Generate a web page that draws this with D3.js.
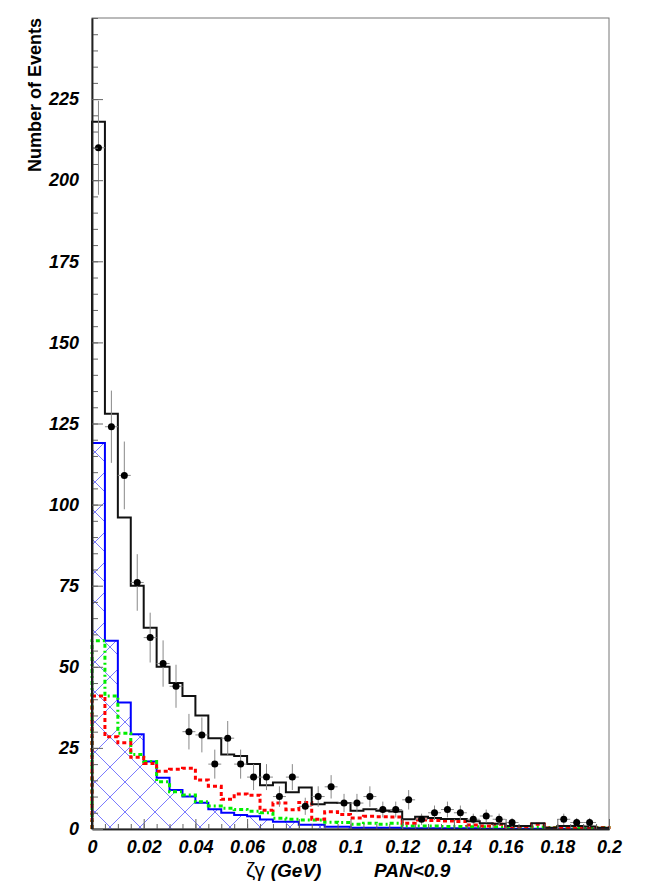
<!DOCTYPE html>
<html>
<head>
<meta charset="utf-8">
<script src="https://cdn.jsdelivr.net/npm/d3@7"></script>
<style>
  html, body { margin: 0; padding: 0; background: #fff; }
  svg { display: block; }
  text { font-family: "Liberation Sans", Arial, Helvetica, sans-serif; }
</style>
</head>
<body>
<svg id="chart" width="664" height="886"></svg>
<script>
// ---- Data ----
const binLow = [0,0.005,0.01,0.015,0.02,0.025,0.03,0.035,0.04,0.045,
                0.05,0.055,0.06,0.065,0.07,0.075,0.08,0.085,0.09,0.095,
                0.1,0.105,0.11,0.115,0.12,0.125,0.13,0.135,0.14,0.145,
                0.15,0.155,0.16,0.165,0.17,0.175,0.18,0.185,0.19,0.195];
const binWidth = 0.005;

const dataCounts = [210,124,109,76,59,51,44,30,29,20,28,20,16,16,10,16,7,10,13,8,
                    8,10,6,6,9,3,5,6,5,3,4,3,2,0,0,0,3,2,2,0];

const mcTotal = [218,128,96,75,62,50,45,41,35,28,23,22.5,20,13.5,14.3,11.3,12.8,7.6,8.1,8,
                 5.6,6.1,5.6,5.4,3,3.8,3.4,3.1,3.1,2.4,1.8,1.6,0.9,0.9,1.8,0.4,0.9,0.9,0.8,0.4];

const mcBlue = [119,58,39,29.2,20.8,15.8,12,10,8.1,6.1,5,4.3,3.9,2.9,2.2,2.2,1.3,1.3,0.7,0.7,
                0.4,0.4,0.4,0.4,0.2,0.2,0.2,0.2,0.2,0.2,0.1,0.1,0.1,0.1,0.1,0.1,0.1,0.1,0.1,0.1];

const mcGreen = [58,41,29.5,23,20.8,14.6,11.5,10.5,8.4,7.1,6.4,6,5.5,5,3.3,3,2.8,2.8,2.1,2,
                 1.5,1.8,1.5,1.8,0.9,0.9,0.9,0.8,0.8,0.7,0.7,0.7,0.6,0.6,0.6,0.5,0.5,0.5,0.5,0.5];

const mcRed = [41,28.4,26.6,22.1,20.2,17.8,18.4,18.7,15.1,13.2,9.2,10.8,10.4,5.8,8,5.9,8.2,3,5.3,4.5,
               3.4,3.9,3.8,3.7,1.8,2.8,2.6,2.5,2.3,1.2,0.9,1.5,0.7,0.7,1.5,0.3,0.5,0.5,0.5,0.4];

const xMajorTicks = [0,0.02,0.04,0.06,0.08,0.1,0.12,0.14,0.16,0.18,0.2];
const yMajorTicks = [0,25,50,75,100,125,150,175,200,225];
const xTitle = "ζγ";
const xTitleUnit = "(GeV)";
const cutLabel = "PAN<0.9";
const yTitle = "Number of Events";

// ---- Layout ----
const L = 92, R = 609, T = 18, B = 829;
const svg = d3.select("#chart");
const x = d3.scaleLinear().domain([0, 0.2]).range([L, R]);
const y = d3.scaleLinear().domain([0, 250]).range([B, T]);

const xMinorTicks = binLow.concat([0.2]);
const yMinorTicks = d3.range(0, 251, 5);

// hatch pattern
const defs = svg.append("defs");
const P = 30;
const pat = defs.append("pattern")
  .attr("id", "hatch")
  .attr("patternUnits", "userSpaceOnUse")
  .attr("x", 110 - P/2).attr("y", 767 - P/2)
  .attr("width", P).attr("height", P);
pat.append("path")
  .attr("d", `M0,0L${P},${P}M0,${P}L${P},0M-1,1L1,-1M${P-1},${P+1}L${P+1},${P-1}`)
  .attr("stroke", "#7a7aff").attr("stroke-width", 1).attr("fill", "none");

function stepPoints(vals) {
  const pts = [[binLow[0], 0]];
  vals.forEach((v, i) => {
    pts.push([binLow[i], v]);
    pts.push([binLow[i] + binWidth, v]);
  });
  pts.push([binLow[binLow.length - 1] + binWidth, 0]);
  return pts;
}
const line = d3.line().x(d => x(d[0])).y(d => y(d[1]));

// frame
svg.append("rect").attr("x", L).attr("y", T).attr("width", R - L).attr("height", B - T)
  .attr("fill", "none").attr("stroke", "#777").attr("stroke-width", 1);

// blue hatched histogram
svg.append("path").attr("d", line(stepPoints(mcBlue)) + "Z")
  .attr("fill", "url(#hatch)").attr("stroke", "none");
svg.append("path").attr("d", line(stepPoints(mcBlue)))
  .attr("fill", "none").attr("stroke", "#0000ff").attr("stroke-width", 2);

// green dash-dot
svg.append("path").attr("d", line(stepPoints(mcGreen)))
  .attr("fill", "none").attr("stroke", "#00ee00").attr("stroke-width", 3)
  .attr("stroke-dasharray", "4,3,2,3");

// red dashed
svg.append("path").attr("d", line(stepPoints(mcRed)))
  .attr("fill", "none").attr("stroke", "#ff0000").attr("stroke-width", 3)
  .attr("stroke-dasharray", "4,3");

// black total
svg.append("path").attr("d", line(stepPoints(mcTotal)))
  .attr("fill", "none").attr("stroke", "#111").attr("stroke-width", 2);

// data points
const pts = binLow.map((b, i) => ({c: b + binWidth / 2, lo: b, hi: b + binWidth, v: dataCounts[i]}))
  .filter(d => d.v > 0);
const gp = svg.append("g");
gp.selectAll("line.v").data(pts).join("line").attr("class", "v")
  .attr("x1", d => x(d.c)).attr("x2", d => x(d.c))
  .attr("y1", d => y(d.v - Math.sqrt(d.v))).attr("y2", d => y(d.v + Math.sqrt(d.v)))
  .attr("stroke", "#888").attr("stroke-width", 1);
gp.selectAll("line.h").data(pts).join("line").attr("class", "h")
  .attr("x1", d => x(d.lo)).attr("x2", d => x(d.hi))
  .attr("y1", d => y(d.v)).attr("y2", d => y(d.v))
  .attr("stroke", "#888").attr("stroke-width", 1);
gp.selectAll("circle").data(pts).join("circle")
  .attr("cx", d => x(d.c)).attr("cy", d => y(d.v)).attr("r", 3.5).attr("fill", "#000");

// axes
const fmtX = d => d === 0 ? "0" : String(+d.toFixed(2));
const gxMinor = svg.append("g").attr("transform", `translate(0,${B})`)
  .call(d3.axisBottom(x).tickValues(xMinorTicks).tickSizeInner(-5).tickSizeOuter(0).tickFormat(""));
const gx = svg.append("g").attr("transform", `translate(0,${B})`)
  .call(d3.axisBottom(x).tickValues(xMajorTicks).tickSizeInner(-10).tickSizeOuter(0).tickPadding(11).tickFormat(fmtX));
const gyMinor = svg.append("g").attr("transform", `translate(${L},0)`)
  .call(d3.axisLeft(y).tickValues(yMinorTicks).tickSizeInner(-6).tickSizeOuter(0).tickFormat(""));
const gy = svg.append("g").attr("transform", `translate(${L},0)`)
  .call(d3.axisLeft(y).tickValues(yMajorTicks).tickSizeInner(-11).tickSizeOuter(0).tickPadding(13).tickFormat(d3.format("d")));

[gxMinor, gx, gyMinor, gy].forEach(g => {
  g.selectAll(".tick line").attr("stroke", "#666");
  g.select(".domain").attr("stroke", "#222").attr("stroke-width", 1.5);
});
[gx, gy].forEach(g => g.selectAll(".tick text")
  .attr("font-family", "'Liberation Sans', Arial, sans-serif")
  .attr("font-size", 18).attr("font-weight", "bold").attr("font-style", "italic").attr("fill", "#000"));

// titles
svg.append("text")
  .attr("transform", `translate(41,${T}) rotate(-90)`)
  .attr("text-anchor", "end")
  .attr("font-size", 18).attr("font-weight", "bold")
  .text(yTitle);

const xt = svg.append("text").attr("x", 246).attr("y", 877).attr("font-size", 19);
xt.append("tspan").attr("font-weight", "normal").attr("font-size", 21).text(xTitle + " ");
xt.append("tspan").attr("font-weight", "bold").attr("font-style", "italic").text(xTitleUnit);

svg.append("text").attr("x", 374).attr("y", 877).attr("font-size", 19)
  .attr("font-weight", "bold").attr("font-style", "italic").text(cutLabel);
</script>
</body>
</html>
